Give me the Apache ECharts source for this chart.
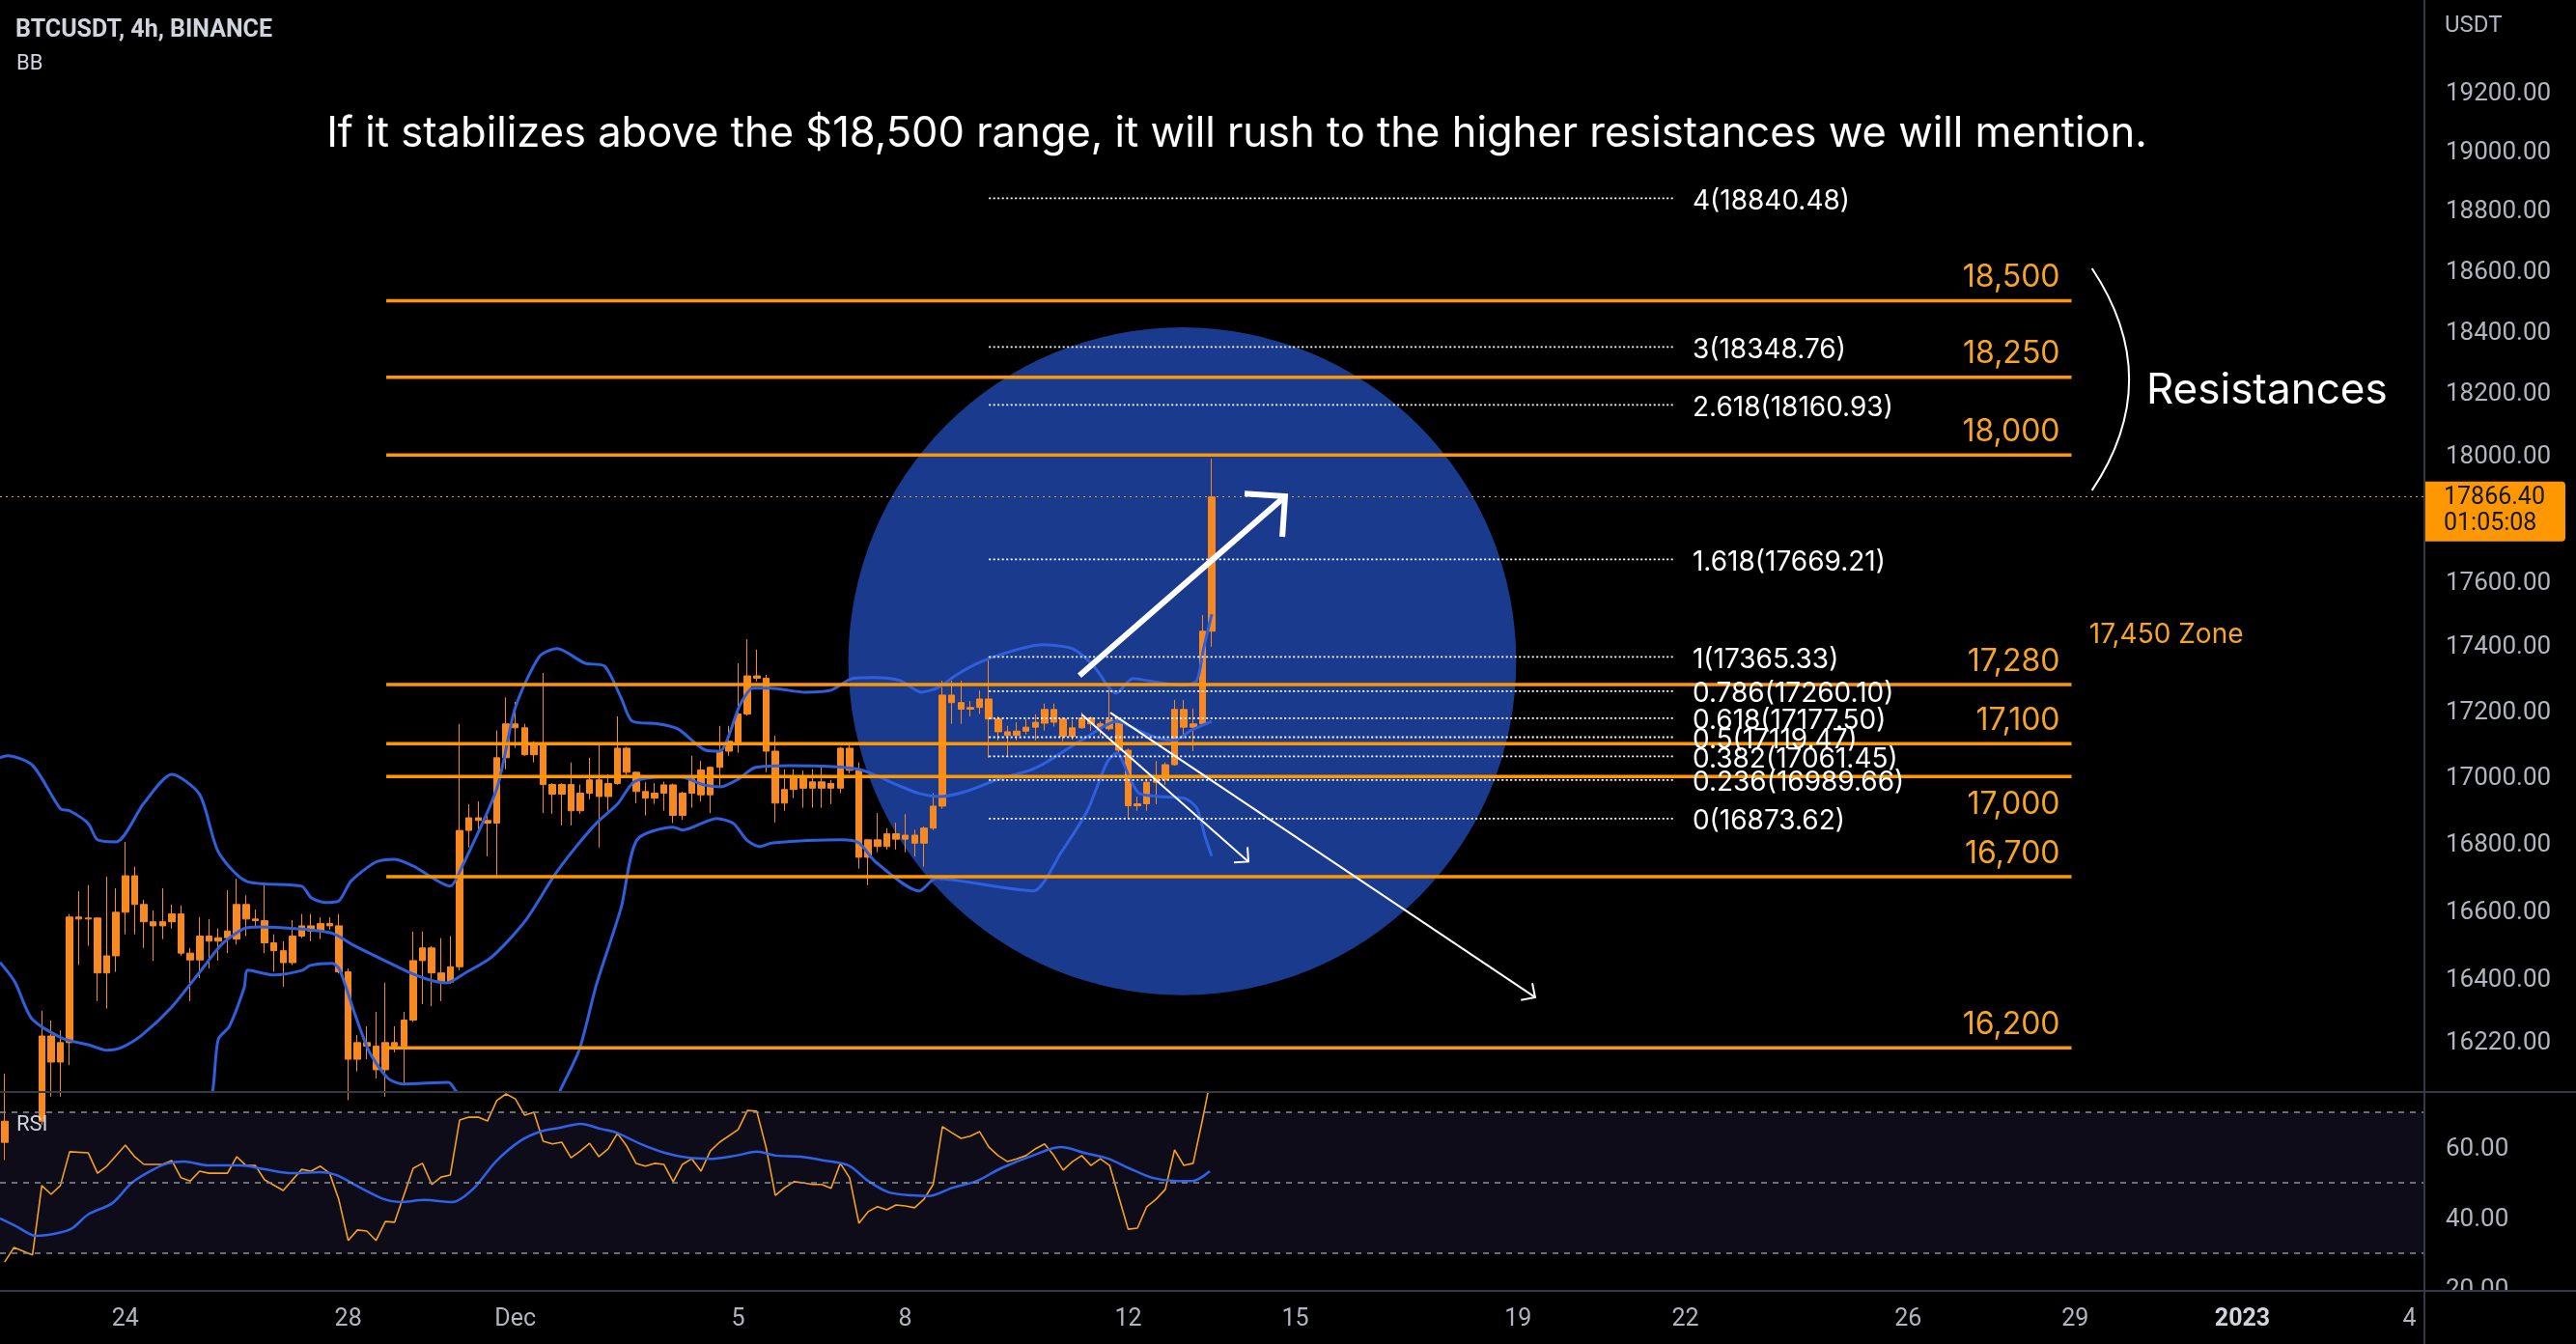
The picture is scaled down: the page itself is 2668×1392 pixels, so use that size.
<!DOCTYPE html>
<html>
<head>
<meta charset="utf-8">
<title>BTCUSDT 4h</title>
<style>
html, body { margin: 0; padding: 0; background: #000; }
#chart { width: 2668px; height: 1392px; }
</style>
<script src="https://cdn.jsdelivr.net/npm/echarts@6/dist/echarts.min.js"></script>
</head>
<body>
<div id="chart"></div>
<script>
// 4h bars, bar 0 opens 21 Nov 2022 20:00 (UTC)
var barStart = Date.UTC(2022, 10, 21, 20);
var barMs = 4 * 3600 * 1000;

// [open, high, low, close]
var candles = [
  [15930,16125,15880,15990],[15990,16060,15820,15870],[15870,15980,15750,15900],[15900,16050,15860,15990],
  [15990,16307,15980,16234],[16234,16279,16060,16159],[16159,16250,16060,16215],[16215,16590,16150,16581],
  [16581,16657,16440,16575],[16575,16675,16496,16578],[16578,16580,16335,16417],[16417,16700,16313,16467],
  [16467,16666,16420,16595],[16595,16804,16530,16703],[16703,16730,16530,16618],[16618,16632,16490,16567],
  [16567,16600,16452,16555],[16555,16666,16516,16567],[16567,16618,16547,16590],[16590,16615,16467,16475],
  [16475,16490,16335,16455],[16455,16581,16402,16525],[16525,16575,16430,16510],[16510,16547,16453,16520],
  [16520,16660,16475,16540],[16516,16694,16500,16618],[16618,16645,16525,16575],[16575,16603,16553,16570],
  [16570,16680,16475,16505],[16505,16530,16420,16482],[16482,16510,16377,16447],[16447,16572,16440,16525],
  [16525,16590,16519,16555],[16555,16590,16510,16540],[16540,16580,16516,16562],[16562,16580,16544,16555],
  [16555,16590,16415,16420],[16420,16430,16050,16167],[16167,16237,16132,16215],[16215,16262,16167,16205],
  [16205,16304,16112,16137],[16137,16388,16060,16215],[16215,16262,16187,16205],[16205,16304,16095,16280],
  [16280,16538,16275,16453],[16453,16538,16326,16490],[16490,16495,16320,16417],[16417,16519,16335,16390],
  [16390,16525,16385,16435],[16435,17160,16425,16838],[16838,16917,16787,16876],[16876,16925,16830,16868],
  [16868,16890,16761,16860],[16860,17140,16700,17057],[17057,17241,17022,17160],[17160,17227,17087,17148],
  [17148,17160,17063,17066],[17066,17107,17043,17095],[17095,17316,16890,16976],[16976,16980,16888,16947],
  [16947,16980,16853,16976],[16976,17043,16853,16897],[16897,16976,16888,16950],[16950,17057,16932,16990],
  [16990,17100,16787,16940],[16940,17007,16897,16979],[16979,17183,16975,17086],[17086,17090,17005,17013],
  [17013,17015,16920,16955],[16955,16983,16883,16935],[16935,16980,16918,16950],[16950,16985,16897,16975],
  [16975,16979,16860,16883],[16883,16955,16870,16950],[16950,17063,16906,16993],[17020,17048,16925,16945],
  [16945,17030,16890,17028],[17028,17154,16970,17077],[17077,17154,17063,17107],[17100,17346,17072,17190],
  [17190,17420,17185,17307],[17307,17388,17290,17300],[17300,17310,17013,17077],[17077,17124,16862,16920],
  [16920,17022,16897,16961],[16961,17022,16935,16999],[16999,17018,16906,16965],[16965,17022,16906,16984],
  [16984,17028,16906,16965],[16965,16990,16917,16979],[16965,17090,16950,17086],[17086,17095,17010,17019],
  [17019,17043,16724,16758],[16758,16812,16675,16810],[16810,16890,16773,16790],[16790,16845,16781,16828],
  [16828,16861,16781,16812],[16812,16887,16773,16824],[16824,16840,16760,16800],[16800,16850,16730,16845],
  [16845,16950,16839,16911],[16911,17292,16903,17248],[17248,17292,17160,17225],[17225,17292,17160,17205],
  [17205,17230,17183,17210],[17210,17262,17190,17236],[17236,17365,17057,17175],[17175,17183,17110,17136],
  [17136,17154,17063,17125],[17125,17165,17110,17138],[17138,17175,17128,17150],[17150,17189,17110,17165],
  [17162,17222,17140,17204],[17204,17222,17152,17165],[17175,17180,17107,17122],[17122,17172,17112,17148],
  [17148,17195,17145,17178],[17178,17183,17139,17160],[17160,17168,17125,17150],[17145,17265,17140,17172],
  [17172,17178,17072,17080],[17080,17085,16874,16912],[16912,16940,16897,16918],[16918,16992,16897,16983],
  [16983,17047,16917,16999],[16990,17043,16975,17036],[17036,17233,17033,17204],[17204,17233,17116,17150],
  [17150,17207,17077,17160],[17160,17495,17154,17445],[17445,17988,17397,17866.40]
];
var lastPrice = 17866.40;
var barTimer = '01:05:08';

// Bollinger Bands [bar, price]
var bbUpper = [[-0.5,17057],[0.3,17063],[3,17034],[6,16903],[7,16897],[9,16859],[10,16810],[12,16804],[15,16920],
  [18,17007],[21,16946],[23,16775],[26,16687],[32,16672],[33,16638],[34.5,16624],[36,16629],[37.3,16687],[40,16744],
  [42,16752],[44,16732],[48,16672],[49,16715],[53,16963],[55,17210],[57.6,17367],[59.5,17391],[62.5,17346],
  [64.6,17337],[66.4,17239],[67.6,17168],[70.4,17160],[72.5,17145],[75.5,17080],[77,17077],[79.2,17218],
  [80.6,17269],[82.5,17269],[86.2,17257],[89,17263],[91.3,17299],[93.6,17302],[96.4,17293],[98.7,17257],
  [100.6,17272],[102.4,17308],[104.8,17346],[107.6,17376],[111.7,17403],[115,17391],[117.3,17337],[118.9,17272],
  [119.7,17254],[121.5,17299],[124.2,17287],[127,17278],[128.4,17293],[129.1,17388],[130,17498]];
var bbBasis = [[-0.5,16448],[1.1,16391],[2.9,16285],[6.1,16229],[9.25,16207],[11,16193],[12.6,16201],[14.8,16237],
  [18,16318],[21,16419],[23.4,16501],[25.8,16547],[27.4,16552],[31.3,16547],[35.3,16533],[37.7,16496],[41.3,16448],
  [43.7,16417],[45.7,16397],[47.6,16388],[49.6,16417],[52.4,16462],[56,16567],[59.2,16704],[61.3,16781],
  [63.7,16859],[66,16917],[67.8,16984],[70.6,16998],[72.9,16998],[75.3,16975],[77.1,16969],[79,16992],
  [80.8,17027],[84.6,17033],[89.2,17030],[92,17022],[93.8,17004],[96.1,16975],[98.5,16949],[100.8,16940],
  [103.5,16955],[107,16992],[110.4,17019],[112.1,17042],[113.8,17072],[116.6,17121],[119.8,17168],[122.2,17139],
  [124.3,17116],[126,17110],[127.7,17139],[130,17168]];
var bbLower = [[20,15800],[22.4,16076],[23,16224],[24.2,16262],[25.8,16374],[26.2,16425],[29,16411],[32.1,16425],
  [32.9,16439],[35.3,16445],[36.1,16425],[37.7,16299],[39.3,16187],[41.3,16112],[42.9,16096],[47.8,16101],
  [48.6,16076],[52,15960],[55,15870],[57.6,15940],[59.8,16076],[61.9,16195],[63.7,16380],[66.4,16609],
  [68.1,16810],[72,16848],[73,16839],[76.7,16874],[78.5,16859],[79.9,16810],[81.3,16790],[82.7,16801],
  [90.1,16810],[92,16801],[93.8,16744],[98.5,16658],[100.3,16695],[103.1,16687],[107.7,16667],[110.8,16658],
  [113.8,16773],[116.6,16897],[118.7,17042],[119.8,17072],[121.2,16993],[122.2,16949],[124.3,16940],
  [127.1,16934],[128.4,16905],[129.3,16818],[130,16761]];

// RSI [bar, value] and its moving average
var rsi = [[0,27.5],[1,31.6],[3,29.5],[4,49.2],[5,46.7],[6,49.2],[7,58.8],[9,58.5],[10,52.7],[11,54.7],[13,60.7],
  [14,57.4],[15,55.2],[17,55.2],[18,56.3],[19,51.4],[20,50.5],[21,53.3],[22,52.7],[24,52.7],[25,57.4],[26,54.9],
  [27,54.9],[28,50.8],[30,47.8],[32,53.8],[33,53.3],[34,54.7],[35,52.7],[36,45.1],[37,33.6],[38,36.6],[39,36.3],
  [40,33.6],[41,39.0],[42,38.8],[44,54.1],[45,55.5],[46,49.5],[47,51.6],[48,52.2],[49,67.8],[50,68.6],[51,68.6],
  [52,67.5],[53,73.3],[54,75.2],[55,73.8],[56,69.2],[57,70.0],[58,61.8],[59,61.0],[60,61.5],[61,57.1],[62,59.0],
  [63,61.2],[64,57.4],[65,59.6],[66,64.0],[67,60.4],[68,55.5],[69,54.7],[70,55.5],[71,55.2],[72,50.3],[73,55.2],
  [74,56.8],[75,53.3],[76,59.0],[77,61.5],[79,65.1],[80,70.5],[81,70.3],[82,60.1],[83,46.4],[84,48.6],[85,50.3],
  [86,50.0],[87,49.5],[88,49.5],[89,48.4],[90,55.5],[91,51.4],[92,38.5],[93,41.8],[94,43.2],[95,42.3],[96,43.7],
  [97,43.4],[98,42.9],[99,45.3],[100,49.5],[101,65.9],[102,64.2],[103,62.6],[104,63.2],[105,64.5],[106,60.1],
  [107,57.7],[108,56.0],[109,56.8],[110,57.7],[111,59.6],[112,61.0],[113,57.7],[114,53.6],[115,56.0],[116,57.7],
  [117,54.9],[118,56.8],[119,54.9],[120,45.9],[121,36.8],[122,37.1],[123,43.2],[124,45.3],[125,48.1],[126,59.3],
  [127,54.9],[128,55.5],[129,67.8],[130,81]];
var rsiMa = [[-0.5,39.9],[1.2,37.7],[3.4,34.9],[5.9,35.8],[7.3,37.1],[9,41.0],[11.6,44.2],[13.7,50.0],[15.9,53.6],
  [17.6,55.5],[19.3,56.0],[21.9,54.9],[25.4,54.9],[28,53.8],[31,52.7],[34,53.0],[35.7,52.2],[38.3,48.6],[40.9,45.3],
  [42.6,44.5],[45.2,45.1],[48.2,44.5],[50.4,48.1],[52.9,56.0],[55.5,61.8],[57.7,64.5],[59.8,65.6],[62,66.7],
  [64.2,65.3],[65.9,64.2],[68.5,61.0],[71.1,58.5],[73.6,57.1],[76.2,56.8],[78.8,57.7],[81,58.8],[83.1,57.7],
  [85.7,57.4],[88.3,56.3],[90.9,54.9],[93,50.5],[95.2,47.3],[97.8,46.4],[99.5,46.2],[102.1,48.6],[104.7,50.5],
  [107.3,54.1],[110.7,57.7],[113.7,60.1],[116.7,58.2],[118.9,56.8],[121.1,54.1],[123.6,51.4],[126.2,50.5],
  [127.9,50.5],[129.8,53.3]];
var rsiBands = [70, 50, 30];

// axis ticks
var priceTicks = [19200, 19000, 18800, 18600, 18400, 18200, 18000, 17600, 17400, 17200, 17000, 16800, 16600, 16400, 16220];
var rsiTicks = [60, 40, 20];
var dateTicks = [['2022-11-24','24'],['2022-11-28','28'],['2022-12-01','Dec'],['2022-12-05','5'],['2022-12-08','8'],
  ['2022-12-12','12'],['2022-12-15','15'],['2022-12-19','19'],['2022-12-22','22'],['2022-12-26','26'],
  ['2022-12-29','29'],['2023-01-01','2023'],['2023-01-04','4']];

// drawings: horizontal resistance levels
var resistSpan = [41.1, 222.6];
var resistPrices = [18500, 18250, 18000, 17280, 17100, 17000, 16700, 16200];
var resistLabels = ['18,500', '18,250', '18,000', '17,280', '17,100', '17,000', '16,700', '16,200'];

// fib extension
var fibSpan = [106, 179.7];
var fibRatios = ['4', '3', '2.618', '1.618', '1', '0.786', '0.618', '0.5', '0.382', '0.236', '0'];
var fibPrices = [18840.48, 18348.76, 18160.93, 17669.21, 17365.33, 17260.10, 17177.50, 17119.47, 17061.45, 16989.66, 16873.62];

// blue circle: [centre bar, centre price, price at top edge]
var zoneCircle = [126.83, 17352, 18413];
// arrows: [bar from, price from, bar to, price to]
var arrows = [[115.75, 17308, 137.9, 17868], [116.0, 17189, 133.95, 16745], [119.08, 17194, 164.83, 16346]];
var arrowStyle = [{w: 6, head: 42}, {w: 2, head: 15}, {w: 2, head: 15}];
// bracket: [bar at ends, top price, bar at bulge, bulge price, bottom price]
var bracket = [224.8, 18607, 228.8, 18243, 17887];
var notes = [[230.65, 18205, 'Resistances'], [224.5, 17435, '17,450 Zone']];

var textFont = 'Inter, "Noto Sans", sans-serif';
var axisFont = 'Roboto, "Noto Sans", sans-serif';
var orange = '#ff9800';
var candleColor = '#f7891f';
var bbColor = '#2f5fdc';
var clear = 'rgba(0,0,0,0)';

var tickIdx = dateTicks.map(function (t) {
  return (Date.parse(t[0] + 'T00:00:00Z') - barStart) / barMs;
});

var chart = echarts.init(document.getElementById('chart'));

function lineLabelRender(params, api) {
  var p = api.value(0);
  var a = api.coord([resistSpan[0], p]);
  var b = api.coord([resistSpan[1], p]);
  var below = resistPrices[params.dataIndex] === 17000;
  return {
    type: 'group',
    children: [
      { type: 'line', shape: { x1: a[0], y1: a[1], x2: b[0], y2: b[1] }, style: { stroke: orange, lineWidth: 3.5 } },
      { type: 'text', x: b[0] - 12, y: below ? a[1] + 29 : a[1] - 24,
        style: { text: resistLabels[params.dataIndex], fill: '#f7a526', font: '32px ' + textFont,
          textAlign: 'right', textVerticalAlign: 'middle', align: 'right', verticalAlign: 'middle' } }
    ]
  };
}

function fibRender(params, api) {
  var p = api.value(0);
  var a = api.coord([fibSpan[0], p]);
  var b = api.coord([fibSpan[1], p]);
  return {
    type: 'group',
    children: [
      { type: 'line', shape: { x1: a[0], y1: a[1], x2: b[0], y2: b[1] },
        style: { stroke: '#ffffff', lineWidth: 1.8, lineDash: [2, 2.5] } },
      { type: 'text', x: b[0] + 20, y: a[1] + 3,
        style: { text: fibRatios[params.dataIndex] + '(' + fibPrices[params.dataIndex].toFixed(2) + ')',
          fill: '#ffffff', font: '28px ' + textFont,
          textAlign: 'left', textVerticalAlign: 'middle', align: 'left', verticalAlign: 'middle' } }
    ]
  };
}

function circleRender(params, api) {
  var c = api.coord([api.value(0), api.value(1)]);
  var t = api.coord([api.value(0), api.value(2)]);
  return { type: 'circle', shape: { cx: c[0], cy: c[1], r: c[1] - t[1] }, style: { fill: '#1a3a8e' } };
}

function arrowRender(params, api) {
  var a = api.coord([api.value(0), api.value(1)]);
  var b = api.coord([api.value(2), api.value(3)]);
  var st = arrowStyle[params.dataIndex];
  var ang = Math.atan2(b[1] - a[1], b[0] - a[0]) + Math.PI;
  var h1 = [b[0] + st.head * Math.cos(ang - Math.PI / 4), b[1] + st.head * Math.sin(ang - Math.PI / 4)];
  var h2 = [b[0] + st.head * Math.cos(ang + Math.PI / 4), b[1] + st.head * Math.sin(ang + Math.PI / 4)];
  return {
    type: 'group',
    children: [
      { type: 'line', shape: { x1: a[0], y1: a[1], x2: b[0], y2: b[1] }, style: { stroke: '#ffffff', lineWidth: st.w } },
      { type: 'polyline', shape: { points: [h1, b, h2] }, style: { stroke: '#ffffff', lineWidth: st.w, fill: null } }
    ]
  };
}

function bracketRender(params, api) {
  var top = api.coord([bracket[0], bracket[1]]);
  var mid = api.coord([bracket[2], bracket[3]]);
  var bot = api.coord([bracket[0], bracket[4]]);
  var cx = 2 * mid[0] - (top[0] + bot[0]) / 2;
  var cy = 2 * mid[1] - (top[1] + bot[1]) / 2;
  var kids = [
    { type: 'bezierCurve', shape: { x1: top[0], y1: top[1], x2: bot[0], y2: bot[1], cpx1: cx, cpy1: cy },
      style: { stroke: '#ffffff', lineWidth: 2, fill: null } }
  ];
  notes.forEach(function (n, k) {
    var p = api.coord([n[0], n[1]]);
    kids.push({ type: 'text', x: p[0], y: p[1],
      style: { text: n[2], fill: k === 0 ? '#ffffff' : '#f7a526', font: (k === 0 ? '44px ' : '28px ') + textFont,
        textAlign: 'left', textVerticalAlign: 'middle', align: 'left', verticalAlign: 'middle' } });
  });
  return { type: 'group', children: kids };
}

// invisible horizontal marker lines that only carry a price-scale label
function scaleLabels(values) {
  return {
    silent: true, symbol: ['none', 'none'], animation: false,
    lineStyle: { color: clear, width: 0 },
    label: { show: true, position: 'end', distance: 23, offset: [0, 2], color: '#b2b5be', opacity: 1,
      fontSize: 26, fontFamily: axisFont,
      formatter: function (p) { return Number(p.value).toFixed(2); } },
    data: values.map(function (v) { return { yAxis: v }; })
  };
}

var option = {
  backgroundColor: '#000000',
  animation: false,
  grid: [
    { left: 0, top: 0, width: 2510, height: 1130, outerBoundsMode: 'none' },
    { left: 0, top: 1131, width: 2510, height: 206, outerBoundsMode: 'none' }
  ],
  xAxis: [
    { type: 'value', gridIndex: 0, min: -0.5, max: 260.5, show: false },
    { type: 'value', gridIndex: 1, min: -0.5, max: 260.5,
      axisLine: { show: false }, axisTick: { show: false }, splitLine: { show: false },
      axisLabel: {
        customValues: tickIdx, margin: 17, color: '#b2b5be', fontSize: 25, fontFamily: axisFont,
        formatter: function (v) {
          for (var k = 0; k < tickIdx.length; k++) {
            if (Math.abs(tickIdx[k] - v) < 0.01) {
              return dateTicks[k][1] === '2023' ? '{b|2023}' : dateTicks[k][1];
            }
          }
          return '';
        },
        rich: { b: { fontWeight: 'bold', fontSize: 25, color: '#d1d4dc', fontFamily: axisFont } }
      }
    }
  ],
  yAxis: [
    { type: 'log', logBase: 10, gridIndex: 0, min: 16076, max: 19516, show: false },
    { type: 'value', gridIndex: 1, min: 19.3, max: 75.75, show: false }
  ],
  series: [
    { type: 'custom', name: 'circle', xAxisIndex: 0, yAxisIndex: 0, z: 1, silent: true,
      data: [zoneCircle], renderItem: circleRender },
    { type: 'candlestick', name: 'BTCUSDT', xAxisIndex: 0, yAxisIndex: 0, z: 3, barWidth: 7, clip: true,
      data: candles.map(function (c, i) { return [i, c[0], c[3], c[2], c[1]]; }),
      itemStyle: { color: candleColor, color0: candleColor, borderColor: candleColor, borderColor0: candleColor, borderWidth: 1 },
      markLine: {
        silent: true, symbol: ['none', 'none'], animation: false,
        data: [{ yAxis: lastPrice }],
        lineStyle: { color: orange, type: [2, 4], width: 1.2 },
        label: {
          position: 'end', distance: 2, offset: [0, 15],
          formatter: lastPrice.toFixed(2) + '\n' + barTimer,
          backgroundColor: orange, color: '#131722', fontSize: 25, fontFamily: axisFont,
          lineHeight: 27, width: 116, padding: [4, 10, 4, 19], borderRadius: [0, 4, 4, 0]
        }
      }
    },
    { type: 'line', name: 'BB upper', xAxisIndex: 0, yAxisIndex: 0, z: 4, data: bbUpper, smooth: 0.25,
      showSymbol: false, lineStyle: { color: bbColor, width: 3 }, markLine: scaleLabels(priceTicks) },
    { type: 'line', name: 'BB basis', xAxisIndex: 0, yAxisIndex: 0, z: 4, data: bbBasis, smooth: 0.25,
      showSymbol: false, lineStyle: { color: bbColor, width: 3 } },
    { type: 'line', name: 'BB lower', xAxisIndex: 0, yAxisIndex: 0, z: 4, data: bbLower, smooth: 0.25,
      showSymbol: false, lineStyle: { color: bbColor, width: 3 } },
    { type: 'custom', name: 'levels', xAxisIndex: 0, yAxisIndex: 0, z: 5, silent: true,
      data: resistPrices.map(function (p) { return [p]; }), encode: { y: 0 }, renderItem: lineLabelRender },
    { type: 'custom', name: 'fib', xAxisIndex: 0, yAxisIndex: 0, z: 6, silent: true,
      data: fibPrices.map(function (p) { return [p]; }), encode: { y: 0 }, renderItem: fibRender },
    { type: 'custom', name: 'arrows', xAxisIndex: 0, yAxisIndex: 0, z: 7, silent: true,
      data: arrows, encode: { x: [0, 2], y: [1, 3] }, renderItem: arrowRender },
    { type: 'custom', name: 'bracket', xAxisIndex: 0, yAxisIndex: 0, z: 7, silent: true,
      data: [bracket], encode: { x: 0, y: 1 }, renderItem: bracketRender },
    { type: 'line', name: 'RSI', xAxisIndex: 1, yAxisIndex: 1, z: 3, data: rsi, showSymbol: false,
      lineStyle: { color: '#f7a21b', width: 1.6 },
      markArea: { silent: true, itemStyle: { color: '#0e0c18' }, data: [[{ yAxis: 30 }, { yAxis: 70 }]] },
      markLine: {
        silent: true, symbol: ['none', 'none'], animation: false,
        lineStyle: { color: '#8a8d96', type: [6, 6], width: 1.6 },
        label: { show: false },
        data: rsiBands.map(function (v) { return { yAxis: v }; })
      }
    },
    { type: 'line', name: 'RSI MA', xAxisIndex: 1, yAxisIndex: 1, z: 4, data: rsiMa, smooth: 0.3, showSymbol: false,
      lineStyle: { color: '#2f62ea', width: 2.5 }, markLine: scaleLabels(rsiTicks) }
  ],
  graphic: [
    { type: 'rect', z: 90, shape: { x: 2512, y: 1338, width: 156, height: 54 }, style: { fill: '#000000' } },
    { type: 'line', z: 100, shape: { x1: 0, y1: 1131, x2: 2668, y2: 1131 }, style: { stroke: '#363a45', lineWidth: 2 } },
    { type: 'line', z: 100, shape: { x1: 0, y1: 1337, x2: 2668, y2: 1337 }, style: { stroke: '#363a45', lineWidth: 2 } },
    { type: 'line', z: 100, shape: { x1: 2511, y1: 0, x2: 2511, y2: 1392 }, style: { stroke: '#363a45', lineWidth: 2 } },
    { type: 'text', z: 100, x: 16, y: 32,
      style: { text: 'BTCUSDT, 4h, BINANCE', fill: '#d1d4dc', font: 'bold 25px ' + axisFont,
        textVerticalAlign: 'middle', verticalAlign: 'middle' } },
    { type: 'text', z: 100, x: 17, y: 66,
      style: { text: 'BB', fill: '#d1d4dc', font: '22px ' + axisFont, textVerticalAlign: 'middle', verticalAlign: 'middle' } },
    { type: 'text', z: 100, x: 17, y: 1165,
      style: { text: 'RSI', fill: '#d1d4dc', font: '22px ' + axisFont, textVerticalAlign: 'middle', verticalAlign: 'middle' } },
    { type: 'text', z: 100, x: 2532, y: 27,
      style: { text: 'USDT', fill: '#b2b5be', font: '24px ' + axisFont, textVerticalAlign: 'middle', verticalAlign: 'middle' } },
    { type: 'text', z: 100, x: 1281, y: 139,
      style: { text: 'If it stabilizes above the $18,500 range, it will rush to the higher resistances we will mention.',
        fill: '#ffffff', font: '43.5px ' + textFont, textAlign: 'center', align: 'center',
        textVerticalAlign: 'middle', verticalAlign: 'middle' } }
  ]
};

chart.setOption(option);
</script>
</body>
</html>
